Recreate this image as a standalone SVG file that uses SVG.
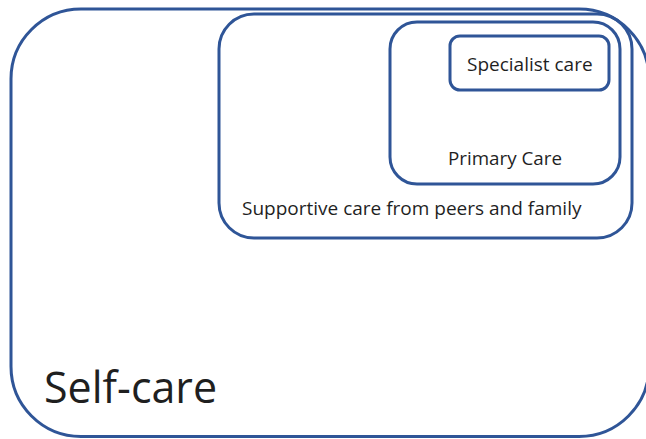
<svg xmlns="http://www.w3.org/2000/svg" width="646" height="439" viewBox="0 0 646 439">
  <style>
    .ring { fill: none; stroke: #2F5597; stroke-width: 3; }
    .lbl { font-family: "Open Sans", "Noto Sans", "Liberation Sans", sans-serif; fill: #1f1f1f; }
  </style>
  <rect width="646" height="439" fill="#ffffff"/>
  <!-- nested levels of care, outermost first -->
  <g id="self-care">
    <rect class="ring" x="11" y="9" width="638" height="427.5" rx="70" ry="70"/>
    <text class="lbl" x="44" y="403" font-size="43">Self-care</text>
  </g>
  <g id="supportive-care">
    <rect class="ring" x="219" y="14" width="413" height="224" rx="35" ry="35"/>
    <text class="lbl" x="242" y="215" font-size="19">Supportive care from peers and family</text>
  </g>
  <g id="primary-care">
    <rect class="ring" x="390" y="22" width="230" height="162" rx="27" ry="27"/>
    <text class="lbl" x="448" y="165" font-size="18.8">Primary Care</text>
  </g>
  <g id="specialist-care">
    <rect class="ring" x="450" y="36" width="159" height="54" rx="10" ry="10"/>
    <text class="lbl" x="467" y="71" font-size="19">Specialist care</text>
  </g>
  <g id="connectors"/>
</svg>
